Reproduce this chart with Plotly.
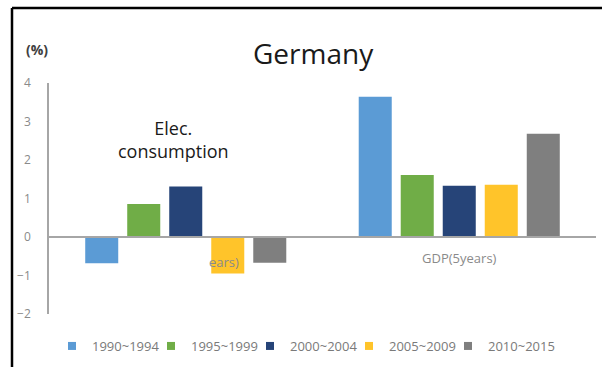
import plotly.graph_objects as go

# Average annual growth rates (%) for Germany by five-year period
categories = ["Elec. consumption", "GDP(5years)"]
periods = ["1990~1994", "1995~1999", "2000~2004", "2005~2009", "2010~2015"]
v_1990_1994 = [-0.68, 3.64]
v_1995_1999 = [0.86, 1.61]
v_2000_2004 = [1.31, 1.33]
v_2005_2009 = [-0.95, 1.36]
v_2010_2015 = [-0.67, 2.68]
y_ticks = [-2, -1, 0, 1, 2, 3, 4]

series = [v_1990_1994, v_1995_1999, v_2000_2004, v_2005_2009, v_2010_2015]
colors = ["#5B9BD5", "#70AD47", "#264478", "#FFC42A", "#7F7F7F"]

FONT = "Open Sans"
W, H = 602, 367
ML, MR, MT, MB = 49, 6, 83, 53
PW, PH = W - ML - MR, H - MT - MB


def px_x(p):
    return (p - ML) / PW


def px_y(p):
    return (H - MB - p) / PH


fig = go.Figure()
for i, (name, vals, col) in enumerate(zip(periods, series, colors)):
    fig.add_trace(go.Bar(
        x=categories, y=vals, name=name,
        marker=dict(color=col, line=dict(width=0)),
        showlegend=False,
    ))
    # legend entry with a small square swatch; the last entry gets room for its full label
    fig.add_trace(go.Scatter(
        x=[None], y=[None], mode="markers", name=name,
        marker=dict(symbol="square", size=8, color=col),
        showlegend=True,
        legendwidth=80 if i == len(periods) - 1 else 54,
    ))

fig.update_layout(
    width=W, height=H,
    margin=dict(l=ML, r=MR, t=MT, b=MB),
    paper_bgcolor="white", plot_bgcolor="white",
    font=dict(family=FONT, color="#595959"),
    bargap=0.232, bargroupgap=0.214, barmode="group",
    showlegend=True,
    legend=dict(
        orientation="h", x=px_x(52), xanchor="left",
        y=px_y(346), yanchor="middle",
        font=dict(size=13, color="#7a7a7a", family=FONT),
        itemwidth=30,
        bgcolor="rgba(0,0,0,0)", borderwidth=0,
    ),
    xaxis=dict(
        type="category", range=[-0.5, 1.5],
        anchor="free", position=1 / 3,
        showline=True, linecolor="#A6A6A6", linewidth=1.5,
        showgrid=False, zeroline=False, ticks="",
        tickvals=categories, ticktext=["", categories[1]],
        tickfont=dict(size=13, color="#8a8a8a"),
        ticklabelstandoff=10,
    ),
    yaxis=dict(
        range=[-2, 4], tickvals=y_ticks,
        showline=True, linecolor="#A6A6A6", linewidth=1.5,
        showgrid=False, zeroline=False, ticks="",
        tickfont=dict(size=12, color="#8a8a8a"),
        ticklabelstandoff=14,
    ),
)

annotations = [
    dict(text="Germany", xref="paper", yref="paper", x=px_x(313.5), y=px_y(53),
         xanchor="center", yanchor="middle", showarrow=False,
         font=dict(size=28, color="#1a1a1a", family=FONT)),
    dict(text="<b>(%)</b>", xref="paper", yref="paper", x=px_x(24), y=px_y(49),
         xanchor="left", yanchor="middle", showarrow=False,
         font=dict(size=14, color="#404040", family=FONT)),
    dict(text="Elec.<br>consumption", xref="x", yref="y", x=-0.044, y=2.53,
         xanchor="center", yanchor="middle", showarrow=False,
         font=dict(size=18, color="#1a1a1a", family=FONT)),
    dict(text="ears)", xref="x", yref="y", x=0.141, y=-0.65,
         xanchor="center", yanchor="middle", showarrow=False,
         font=dict(size=13, color="#8a8a8a", family=FONT)),
]
fig.update_layout(annotations=annotations)

# slide frame lines along the top and left edges
fig.add_shape(type="line", xref="paper", yref="paper",
              x0=px_x(12), x1=px_x(602), y0=px_y(8), y1=px_y(8),
              line=dict(color="black", width=2.5))
fig.add_shape(type="line", xref="paper", yref="paper",
              x0=px_x(12), x1=px_x(12), y0=px_y(8), y1=px_y(367),
              line=dict(color="black", width=2.5))

fig.write_html("out.html")
